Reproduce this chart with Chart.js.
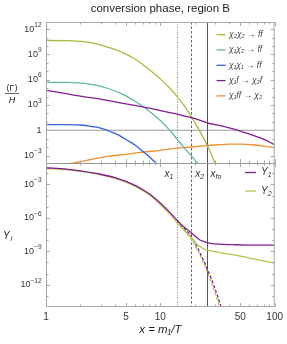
<!DOCTYPE html>
<html>
<head>
<meta charset="utf-8">
<script src="https://cdn.jsdelivr.net/npm/chart.js@4.4.1/dist/chart.umd.min.js"></script>
<style>
  html, body { margin: 0; padding: 0; background: #fff; }
  canvas { display: block; }
</style>
</head>
<body>
<canvas id="chart" width="287" height="344" style="width:287px;height:344px"></canvas>
<script>
const FF = '"Liberation Sans", "DejaVu Sans", Arial, sans-serif';

// x axis ticks
const xTicks = [1, 5, 10, 50, 100];
const xMinor = [2, 3, 4, 6, 7, 8, 9, 20, 30, 40, 60, 70, 80, 90];

// characteristic points x1, x2, x_fo
const markX = [14.1, 18.6, 25.4];
const markLabels = ['x', 'x', 'x'];
const markSubs = ['1', '2', 'fo'];

// top panel: <Gamma>/H for each process
const x22 = [1, 1.5, 2, 2.6, 3.5, 4.8, 6, 7, 8, 10, 12, 14, 16, 19, 22, 25.5, 28, 30.5];
const g22 = [4.5e10, 4.4e10, 3.5e10, 2.2e10, 7e9, 1.45e9, 2.8e8, 6.5e7, 1.6e7, 1.25e6, 1.1e5, 1e4, 1e3, 28, 0.9, 0.02, 1.3e-3, 8e-5];

const x12 = [1, 1.5, 2, 2.6, 3.5, 4.8, 6, 7, 8, 10, 12, 14, 16, 19, 21.5];
const g12 = [4.8e5, 4.7e5, 4e5, 2.6e5, 9e4, 1.6e4, 2.8e3, 700, 180, 14, 1.1, 0.09, 0.01, 7e-4, 1e-4];

const x11 = [1, 1.5, 2, 2.6, 3, 3.6, 4.3, 5, 6, 7, 8, 9.3];
const g11 = [4.7, 4.7, 4.2, 2.6, 1.8, 0.76, 0.28, 0.08, 0.018, 3.2e-3, 7e-4, 1e-4];

const x1f = [1, 1.5, 2, 3, 4, 5, 7, 10, 14, 18, 22, 26, 32, 40, 50, 63, 80, 100];
const g1f = [5.4e4, 2.2e4, 1.1e4, 4.8e3, 2.4e3, 1.35e3, 600, 215, 83, 35, 16, 7.2, 4, 1.9, 0.8, 0.28, 0.09, 0.019];

const x1ff = [1.4, 1.55, 1.9, 2.6, 3.5, 4.8, 7, 10, 14, 20, 25, 32, 40, 50, 63, 80, 100];
const g1ff = [5e-5, 1e-4, 1.6e-4, 4.1e-4, 8e-4, 1.3e-3, 2.5e-3, 4.2e-3, 7.6e-3, 0.011, 0.015, 0.019, 0.022, 0.022, 0.019, 0.013, 8.3e-3];

// bottom panel: yields
const xY = [1, 1.5, 2, 3, 4, 5, 6, 7, 8, 10, 12, 14, 16, 18, 20, 22, 24, 26, 30, 36, 45, 60, 80, 100];
const Y1 = [0.032, 0.024, 0.0166, 8.3e-3, 4.2e-3, 1.9e-3, 8.3e-4, 3.5e-4, 1.5e-4, 2.2e-5, 3.5e-6, 6.3e-7, 1.6e-7, 6.3e-8, 2.4e-8, 1.1e-8, 7.6e-9, 5.8e-9, 4.7e-9, 4.2e-9, 3.9e-9, 3.65e-9, 3.55e-9, 3.55e-9];
const Y2 = [0.028, 0.0214, 0.0148, 7.4e-3, 3.6e-3, 1.66e-3, 7.1e-4, 2.95e-4, 1.2e-4, 1.6e-5, 2.4e-6, 3.8e-7, 8.9e-8, 2.5e-8, 7.1e-9, 2.8e-9, 1.66e-9, 1.26e-9, 9.3e-10, 6.6e-10, 4.5e-10, 2.5e-10, 1.4e-10, 8.9e-11];

const xEq = [14, 16, 18, 20, 22, 24, 26, 28, 30, 32, 34, 36];
const Y1eq = [5.6e-7, 1.26e-7, 3.5e-8, 6.3e-9, 8.9e-10, 1.4e-10, 2e-11, 3.2e-12, 4.5e-13, 7.1e-14, 1e-14, 1.6e-15];
const Y2eq = [3.5e-7, 8e-8, 2e-8, 3.5e-9, 5.6e-10, 8e-11, 1.1e-11, 1.4e-12, 2e-13, 2.8e-14, 4e-15, 6e-16];

// y tick labels (exponents)
const topExp = [12, 9, 6, 3, 0, -3];
const botExp = [-3, -6, -9, -12];

const legendTop = ['χ₂χ₂ → ff', 'χ₁χ₂ → ff', 'χ₁χ₁ → ff', 'χ₁f → χ₂f', 'χ₁ff → χ₂'];
const legendBot = ['Y', 'Y'];
const legendBotSub = ['1', '2'];

const OLIVE = '#a9bb3e';
const TEAL = '#5fb8a2';
const BLUE = '#3a62d8';
const PURPLE = '#7f1f8e';
const ORANGE = '#ef9030';
const topColors = [OLIVE, TEAL, BLUE, PURPLE, ORANGE];
const botColors = [PURPLE, '#b3c652'];

function line(xs, ys, color, axis, dash) {
  return {
    data: xs.map((x, i) => ({ x: x, y: ys[i] })),
    borderColor: color,
    borderWidth: 1.3,
    borderDash: dash || [],
    pointRadius: 0,
    fill: false,
    cubicInterpolationMode: 'monotone',
    yAxisID: axis
  };
}

const decorations = {
  id: 'decorations',
  beforeDatasetsDraw(chart) {
    const ctx = chart.ctx;
    const a = chart.chartArea;
    const xs = chart.scales.x, yT = chart.scales.yT;
    ctx.save();
    // y = 1 line
    const y1 = yT.getPixelForValue(1);
    ctx.strokeStyle = '#9a9a9a';
    ctx.lineWidth = 1;
    ctx.beginPath(); ctx.moveTo(a.left, y1); ctx.lineTo(a.right, y1); ctx.stroke();
    // vertical marks
    const styles = [
      { dash: [1, 1.5], color: '#888', w: 1 },
      { dash: [2.5, 2], color: '#555', w: 0.9 },
      { dash: [], color: '#555', w: 1 }
    ];
    markX.forEach((v, i) => {
      const px = Math.round(xs.getPixelForValue(v)) + 0.5;
      ctx.setLineDash(styles[i].dash);
      ctx.strokeStyle = styles[i].color;
      ctx.lineWidth = styles[i].w;
      ctx.beginPath(); ctx.moveTo(px, a.top); ctx.lineTo(px, a.bottom); ctx.stroke();
    });
    ctx.restore();
  },
  afterDraw(chart) {
    const ctx = chart.ctx;
    const a = chart.chartArea;
    const xs = chart.scales.x, yT = chart.scales.yT, yB = chart.scales.yB;
    const sep = yT.bottom;
    ctx.save();
    // frame and panel separator
    ctx.strokeStyle = '#a8a8a8';
    ctx.lineWidth = 1;
    ctx.strokeRect(a.left + 0.5, a.top + 0.5, a.right - a.left - 1, a.bottom - a.top - 1);
    ctx.strokeStyle = '#999';
    ctx.beginPath(); ctx.moveTo(a.left, Math.round(sep) + 0.5); ctx.lineTo(a.right, Math.round(sep) + 0.5); ctx.stroke();

    // x tick marks
    ctx.strokeStyle = '#aaa';
    const xt = xTicks.map(v => [v, 4]).concat(xMinor.map(v => [v, 2.5]));
    xt.forEach(([v, len]) => {
      const px = Math.round(xs.getPixelForValue(v)) + 0.5;
      [[a.top, 1], [sep, -1], [sep, 1], [a.bottom, -1]].forEach(([y0, d]) => {
        ctx.beginPath(); ctx.moveTo(px, y0); ctx.lineTo(px, y0 + d * len); ctx.stroke();
      });
    });
    // y tick marks
    function yTicksFor(scale, lo, hi, majors) {
      for (let e = lo; e <= hi; e++) {
        const py = Math.round(scale.getPixelForValue(Math.pow(10, e))) + 0.5;
        const len = majors.includes(e) ? 4 : 2.5;
        ctx.beginPath(); ctx.moveTo(a.left, py); ctx.lineTo(a.left + len, py); ctx.stroke();
        ctx.beginPath(); ctx.moveTo(a.right, py); ctx.lineTo(a.right - len, py); ctx.stroke();
      }
    }
    yTicksFor(yT, -3, 12, topExp);
    yTicksFor(yB, -13, -2, botExp);

    // y tick labels
    ctx.fillStyle = '#333';
    ctx.textBaseline = 'middle';
    ctx.textAlign = 'right';
    function pow10(e, py) {
      const xr = 41.5;
      if (e === 0) { ctx.font = '9px ' + FF; ctx.fillText('1', xr, py); return; }
      const s = e < 0 ? '−' + (-e) : String(e);
      ctx.font = '6.5px ' + FF;
      const we = ctx.measureText(s).width;
      ctx.fillText(s, xr, py - 4);
      ctx.font = '9px ' + FF;
      ctx.fillText('10', xr - we, py);
    }
    topExp.forEach(e => pow10(e, yT.getPixelForValue(Math.pow(10, e))));
    botExp.forEach(e => pow10(e, yB.getPixelForValue(Math.pow(10, e))));

    // axis titles
    ctx.textAlign = 'center';
    ctx.fillStyle = '#222';
    ctx.font = '9px ' + FF;
    ctx.fillText('⟨Γ⟩', 12, 89);
    ctx.strokeStyle = '#222';
    ctx.lineWidth = 0.7;
    ctx.beginPath(); ctx.moveTo(5, 93.5); ctx.lineTo(19, 93.5); ctx.stroke();
    ctx.font = 'italic 9px ' + FF;
    ctx.fillText('H', 12, 100);
    ctx.textAlign = 'left';
    ctx.font = 'italic 10px ' + FF;
    ctx.fillText('Y', 3, 236);
    ctx.font = 'italic 7px ' + FF;
    ctx.fillText('i', 10.5, 239.5);

    // title
    ctx.textAlign = 'center';
    ctx.font = '11.5px ' + FF;
    ctx.fillStyle = '#222';
    ctx.fillText('conversion phase, region B', (a.left + a.right) / 2, 9);

    // mark labels
    ctx.fillStyle = '#333';
    markX.forEach((v, i) => {
      const px = xs.getPixelForValue(v);
      ctx.font = 'italic 10px ' + FF;
      const wx = ctx.measureText(markLabels[i]).width;
      ctx.font = 'italic 7px ' + FF;
      const ws = ctx.measureText(markSubs[i]).width;
      let x0 = i === 0 ? px - 4 - wx - ws : px + 4;
      ctx.textAlign = 'left';
      ctx.font = 'italic 10px ' + FF;
      ctx.fillText(markLabels[i], x0, 174);
      ctx.font = 'italic 7px ' + FF;
      ctx.fillText(markSubs[i], x0 + wx, 177);
    });

    // top legend
    legendTop.forEach((t, i) => {
      const y = 34.7 + i * 15.3;
      ctx.strokeStyle = topColors[i];
      ctx.lineWidth = 1.3;
      ctx.beginPath(); ctx.moveTo(216.5, y); ctx.lineTo(225.5, y); ctx.stroke();
      ctx.fillStyle = '#444';
      ctx.font = 'italic 8.5px ' + FF;
      ctx.textAlign = 'left';
      ctx.fillText(t, 229, y);
    });
    // bottom legend
    legendBot.forEach((t, i) => {
      const y = 172.5 + i * 18.5;
      ctx.strokeStyle = botColors[i];
      ctx.lineWidth = 1.3;
      ctx.beginPath(); ctx.moveTo(245, y); ctx.lineTo(256, y); ctx.stroke();
      ctx.fillStyle = '#333';
      ctx.font = 'italic 10px ' + FF;
      ctx.fillText(t, 261, y);
      const w = ctx.measureText(t).width;
      ctx.font = 'italic 7px ' + FF;
      ctx.fillText(legendBotSub[i], 261 + w, y + 3);
    });
    ctx.restore();
  }
};

new Chart(document.getElementById('chart'), {
  type: 'line',
  data: {
    datasets: [
      line(x1f, g1f, PURPLE, 'yT'),
      line(x22, g22, OLIVE, 'yT'),
      line(x12, g12, TEAL, 'yT'),
      line(x11, g11, BLUE, 'yT'),
      line(x1ff, g1ff, ORANGE, 'yT'),
      line(xY, Y1, PURPLE, 'yB'),
      line(xY, Y2, botColors[1], 'yB'),
      line(xEq, Y1eq, PURPLE, 'yB', [3, 2]),
      line(xEq, Y2eq, botColors[1], 'yB', [3, 2])
    ]
  },
  options: {
    responsive: false,
    animation: false,
    events: [],
    layout: { padding: { top: 22, right: 10, left: 0, bottom: 0 } },
    plugins: { legend: { display: false }, tooltip: { enabled: false }, title: { display: false } },
    scales: {
      x: {
        type: 'logarithmic',
        min: 1,
        max: 100,
        position: 'bottom',
        grid: { display: false, drawTicks: false },
        border: { display: false },
        afterBuildTicks: s => { s.ticks = xTicks.map(v => ({ value: v })); },
        afterFit: s => { s.height = 37; },
        ticks: {
          autoSkip: false,
          maxRotation: 0,
          padding: 4,
          color: '#333',
          font: { size: 10, family: FF },
          callback: v => String(v)
        },
        title: {
          display: true,
          text: 'x = m₁/T',
          color: '#222',
          font: { size: 11.5, style: 'italic', family: FF },
          padding: { top: 0, bottom: 7 }
        }
      },
      yB: {
        type: 'logarithmic',
        min: 1e-14,
        max: 0.085,
        position: 'left',
        stack: 'panels',
        stackWeight: 144,
        grid: { display: false, drawTicks: false },
        border: { display: false },
        ticks: { display: false },
        afterFit: s => { s.width = 46; }
      },
      yT: {
        type: 'logarithmic',
        min: 1.3e-4,
        max: 7e12,
        position: 'left',
        stack: 'panels',
        stackWeight: 141,
        grid: { display: false, drawTicks: false },
        border: { display: false },
        ticks: { display: false },
        afterFit: s => { s.width = 46; }
      }
    }
  },
  plugins: [decorations]
});
</script>
</body>
</html>
